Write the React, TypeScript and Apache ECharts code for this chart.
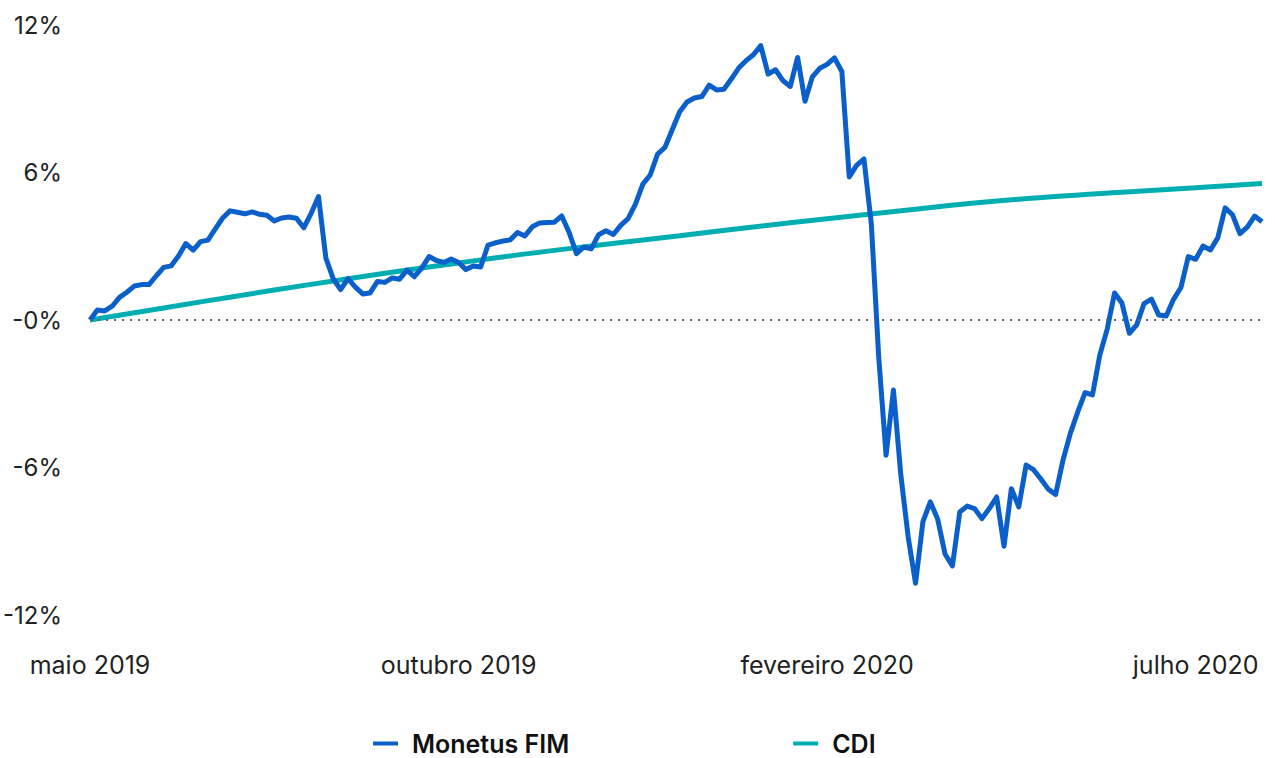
import React, { useEffect, useRef } from "react";
import * as echarts from "echarts";

const xTickLabels = ["maio 2019", "outubro 2019", "fevereiro 2020", "julho 2020"];
const xTickEvery = 50;
const yTickLabels: Record<string, string> = { "12": "12%", "6": "6%", "0": "-0%", "-6": "-6%", "-12": "-12%" };

const monetus = [
  0.00, 0.41, 0.37, 0.56, 0.92, 1.13, 1.38, 1.44, 1.44, 1.80,
  2.14, 2.20, 2.60, 3.11, 2.84, 3.19, 3.25, 3.71, 4.15, 4.44,
  4.38, 4.32, 4.40, 4.30, 4.26, 4.03, 4.15, 4.19, 4.14, 3.75,
  4.34, 5.02, 2.52, 1.67, 1.24, 1.68, 1.34, 1.06, 1.10, 1.57,
  1.53, 1.71, 1.66, 2.03, 1.76, 2.11, 2.58, 2.42, 2.34, 2.48,
  2.34, 2.05, 2.20, 2.16, 3.05, 3.14, 3.21, 3.26, 3.56, 3.42,
  3.79, 3.95, 3.97, 3.98, 4.23, 3.56, 2.70, 2.97, 2.89, 3.47,
  3.63, 3.48, 3.85, 4.12, 4.71, 5.53, 5.90, 6.75, 7.02, 7.75,
  8.47, 8.87, 9.03, 9.09, 9.55, 9.36, 9.39, 9.80, 10.25, 10.55,
  10.79, 11.16, 10.00, 10.18, 9.74, 9.50, 10.68, 8.90, 9.89, 10.24,
  10.40, 10.66, 10.11, 5.82, 6.29, 6.55, 3.91, -1.50, -5.50, -2.85,
  -6.30, -8.83, -10.71, -8.20, -7.40, -8.10, -9.52, -10.00, -7.81, -7.57,
  -7.67, -8.08, -7.67, -7.20, -9.20, -6.86, -7.60, -5.90, -6.09, -6.47,
  -6.88, -7.10, -5.70, -4.61, -3.74, -2.95, -3.05, -1.42, -0.37, 1.10,
  0.69, -0.54, -0.20, 0.67, 0.85, 0.20, 0.16, 0.84, 1.32, 2.58,
  2.47, 3.01, 2.85, 3.34, 4.56, 4.28, 3.51, 3.78, 4.23, 4.00,
];

const cdiIndex = [0, 10, 20, 30, 40, 50, 60, 70, 80, 90, 100, 110, 120, 130, 140, 150, 159];
const cdiValues = [0, 0.49, 0.98, 1.45, 1.90, 2.32, 2.72, 3.08, 3.43, 3.78, 4.12, 4.44, 4.76, 5.00, 5.20, 5.38, 5.55];

const categories = monetus.map((_, i) => String(i));

export default function App() {
  const ref = useRef<HTMLDivElement>(null);
  useEffect(() => {
    if (!ref.current) return;
    const chart = echarts.init(ref.current, null, { renderer: "svg" });
    const font = "Inter";
    chart.setOption({
      animation: false,
      textStyle: { fontFamily: font },
      grid: { left: 90, right: 13, top: 25, bottom: 143, containLabel: false },
      legend: {
        top: 730,
        left: 373,
        itemGap: 224,
        itemWidth: 25,
        itemHeight: 4,
        icon: "rect",
        padding: 0,
        textStyle: { fontFamily: font, fontSize: 25, lineHeight: 27, fontWeight: 600, color: "#111", padding: [0, 0, 0, 9] },
        data: ["Monetus FIM", "CDI"],
      },
      xAxis: {
        type: "category",
        data: categories,
        boundaryGap: false,
        axisLine: { show: false },
        axisTick: { show: false },
        splitLine: { show: false },
        axisLabel: {
          interval: xTickEvery - 1,
          margin: 37,
          fontSize: 25,
          color: "#222",
          fontFamily: font,
          formatter: (_v: string, idx: number) => xTickLabels[Math.round(idx / xTickEvery)] ?? "",
        },
      },
      yAxis: {
        type: "value",
        min: -12,
        max: 12,
        interval: 6,
        axisLine: { show: false },
        axisTick: { show: false },
        splitLine: { show: false },
        axisLabel: {
          margin: 28,
          fontSize: 24,
          color: "#222",
          fontFamily: font,
          formatter: (v: number) => yTickLabels[String(v)] ?? "",
        },
      },
      series: [
        {
          name: "CDI",
          type: "line",
          data: cdiIndex.map((idx, k) => [idx, cdiValues[k]]),
          showSymbol: false,
          smooth: true,
          lineStyle: { color: "#00AEB2", width: 5 },
          itemStyle: { color: "#00AEB2" },
          z: 2,
          markLine: {
            silent: true,
            symbol: "none",
            label: { show: false },
            lineStyle: { color: "#666", width: 2, type: [2, 6] },
            data: [{ yAxis: 0 }],
          },
        },
        {
          name: "Monetus FIM",
          type: "line",
          data: monetus,
          showSymbol: false,
          lineStyle: { color: "#0A5FCB", width: 5, join: "round" },
          itemStyle: { color: "#0A5FCB" },
          z: 3,
        },
      ],
    });
    return () => chart.dispose();
  }, []);
  return <div ref={ref} style={{ width: 1275, height: 758, position: "absolute", left: 0, top: 0 }} />;
}
